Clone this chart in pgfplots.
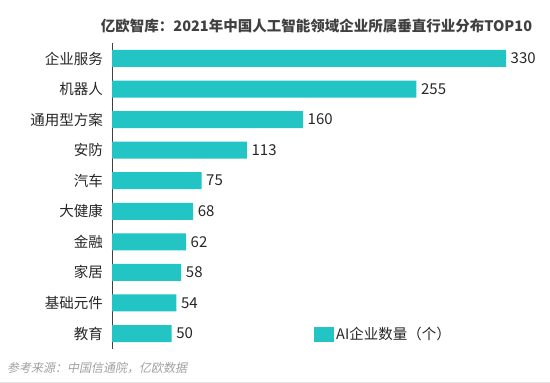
\documentclass[border=0pt]{standalone}
\usepackage{pgfplots}
\pgfplotsset{compat=1.18}
\usepackage{fontspec}
\setmainfont{Noto Sans CJK SC}
\newfontfamily\srcfont[FakeSlant=0.2]{Noto Sans CJK SC}
\definecolor{bar}{HTML}{22C4C4}
\definecolor{titlec}{HTML}{404040}
\definecolor{labc}{HTML}{262626}
\definecolor{srcc}{HTML}{A0A0A0}
\begin{document}
\begin{tikzpicture}
\begin{axis}[
  at={(112bp,34.2bp)}, anchor=south west,
  scale only axis, width=394bp, height=305.6bp,
  xmin=0, xmax=330, ymin=-0.5, ymax=9.5,
  y dir=reverse,
  axis lines*=left,
  axis line style={-},
  x axis line style={draw=none},
  y axis line style={draw=titlec, line width=0.9bp},
  xtick=\empty,
  ytick={0,1,2,3,4,5,6,7,8,9},
  yticklabels={企业服务,机器人,通用型方案,安防,汽车,大健康,金融,家居,基础元件,教育},
  ytick style={draw=none},
  yticklabel style={font=\fontsize{14.5bp}{17bp}\selectfont, text=labc, inner sep=0pt, xshift=-9bp},
  clip=false,
  point meta=x,
  /pgf/number format/assume math mode=true,
  nodes near coords,
  nodes near coords style={font=\fontsize{15bp}{18bp}\selectfont, text=labc, anchor=west, inner sep=0pt, xshift=4.5bp},
  legend style={at={(0.5127,0.0468)}, anchor=west, draw=none, fill=none, inner sep=0pt,
    font=\fontsize{14.5bp}{17bp}\selectfont, text=labc},
  legend image code/.code={\fill[bar] (0bp,-7.5bp) rectangle (20bp,7.5bp);},
]
\addplot[xbar, fill=bar, draw=none, bar width=17bp, bar shift=0pt]
  coordinates {(330,0) (255,1) (160,2) (113,3) (75,4) (68,5) (62,6) (58,7) (54,8) (50,9)};
\addlegendentry{AI企业数量（个）}
\end{axis}
\node[font=\bfseries\fontsize{14.5bp}{17bp}\selectfont, text=titlec] at (316.5bp,357bp) {亿欧智库：2021年中国人工智能领域企业所属垂直行业分布TOP10};
\node[font=\srcfont\fontsize{12bp}{14bp}\selectfont, text=srcc, anchor=west, inner sep=0pt] at (7bp,15bp) {参考来源：中国信通院，亿欧数据};
\draw[black!10, line width=1.5bp] (0,0.75bp) -- (550bp,0.75bp);
\pgfresetboundingbox
\path (0,0) rectangle (550bp,383bp);
\end{tikzpicture}
\end{document}
